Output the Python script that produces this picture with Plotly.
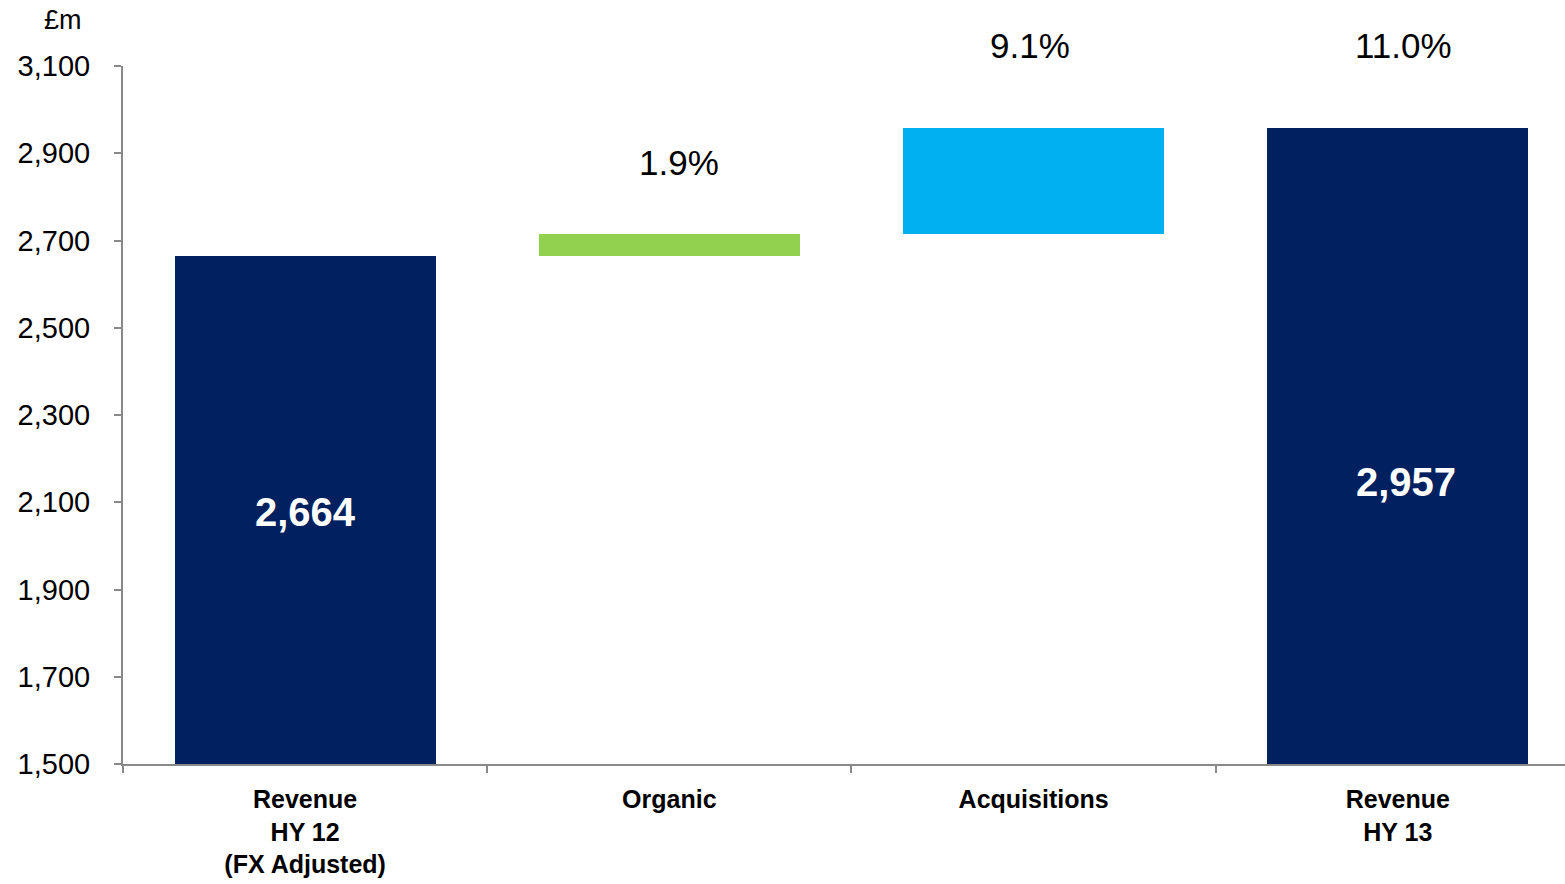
import plotly.graph_objects as go

# Revenue bridge, £m
categories = ["Revenue<br>HY 12<br>(FX Adjusted)", "Organic", "Acquisitions", "Revenue<br>HY 13"]
revenue_hy12 = 2664
organic_growth = 50
acquisitions_growth = 243
revenue_hy13 = 2957
y_ticks = [1500, 1700, 1900, 2100, 2300, 2500, 2700, 2900, 3100]

NAVY = "#002060"
GREEN = "#92D050"
CYAN = "#00B0F0"
AXIS_GREY = "#898989"
FONT = "Liberation Sans, Arial, sans-serif"

heights = [revenue_hy12, organic_growth, acquisitions_growth, revenue_hy13]
bases = [0, revenue_hy12, revenue_hy12 + organic_growth, 0]
colors = [NAVY, GREEN, CYAN, NAVY]

fig = go.Figure()
fig.add_trace(go.Bar(
    x=categories,
    y=heights,
    base=bases,
    width=0.717,
    marker=dict(color=colors, line=dict(width=0)),
    hoverinfo="skip",
    showlegend=False,
))

annotations = []

# Totals written inside the navy bars
for cat, val, ypos, dx in [(categories[0], revenue_hy12, 2078, 0),
                           (categories[3], revenue_hy13, 2146, 8)]:
    annotations.append(dict(
        x=cat, y=ypos, xref="x", yref="y", text=f"{val:,}", showarrow=False,
        xshift=dx,
        font=dict(family=FONT, size=40, color="white", weight="bold"),
    ))

# Growth percentages relative to HY 12
pct_organic = organic_growth / revenue_hy12 * 100
pct_acq = acquisitions_growth / revenue_hy12 * 100
pct_total = (revenue_hy13 - revenue_hy12) / revenue_hy12 * 100
for cat, pct, ytop, lift, dx in [
    (categories[1], pct_organic, revenue_hy12 + organic_growth, 72, 10),
    (categories[2], pct_acq, revenue_hy13, 83, -4),
    (categories[3], pct_total, revenue_hy13, 83, 6),
]:
    annotations.append(dict(
        x=cat, y=ytop, xref="x", yref="y", text=f"{pct:.1f}%", showarrow=False,
        yshift=lift, xshift=dx, yanchor="middle",
        font=dict(family=FONT, size=35, color="black"),
    ))

# Unit label above the value axis
annotations.append(dict(
    x=-0.0416, y=1.066, xref="paper", yref="paper", text="£m", showarrow=False,
    xanchor="center", yanchor="middle",
    font=dict(family=FONT, size=27, color="black"),
))

fig.update_layout(
    width=1565,
    height=884,
    margin=dict(l=123, r=0, t=66, b=120),
    paper_bgcolor="white",
    plot_bgcolor="white",
    bargap=0,
    annotations=annotations,
    xaxis=dict(
        type="category",
        range=[-0.5, 3.459],
        automargin=False,
        showgrid=False,
        zeroline=False,
        showline=True,
        linecolor=AXIS_GREY,
        linewidth=2,
        ticks="outside",
        tickson="boundaries",
        ticklen=7,
        tickwidth=2,
        tickcolor=AXIS_GREY,
        tickfont=dict(family=FONT, size=25, color="black", weight="bold"),
        ticklabelstandoff=12,
    ),
    yaxis=dict(
        range=[1500, 3100],
        automargin=False,
        tickvals=y_ticks,
        tickformat=",d",
        showgrid=False,
        zeroline=False,
        showline=True,
        linecolor=AXIS_GREY,
        linewidth=2,
        ticks="outside",
        ticklen=7,
        tickwidth=2,
        tickcolor=AXIS_GREY,
        tickfont=dict(family=FONT, size=29, color="black"),
        ticklabelstandoff=18,
    ),
)

fig.write_html("out.html")
